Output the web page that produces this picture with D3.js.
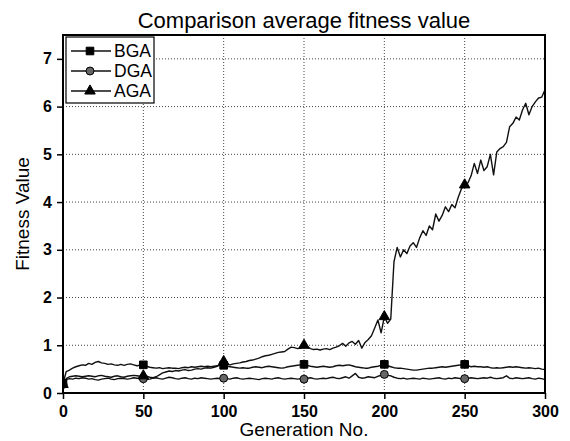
<!DOCTYPE html>
<html>
<head>
<meta charset="utf-8">
<script src="https://cdn.jsdelivr.net/npm/d3@7"></script>
<style>
  html, body { margin: 0; padding: 0; background: #fff; }
  svg { display: block; font-family: "Liberation Sans", Arial, sans-serif; }
</style>
</head>
<body>
<svg id="chart" width="570" height="441"></svg>
<script>
// Average fitness per generation (sampled every 2 generations)
const generations = d3.range(0, 301, 2);

const bgaValues = [
  0.20, 0.45, 0.48, 0.52, 0.55, 0.57, 0.59, 0.58, 0.62, 0.60,
  0.64, 0.66, 0.63, 0.62, 0.60, 0.61, 0.59, 0.58, 0.60, 0.58,
  0.60, 0.61, 0.59, 0.57, 0.58, 0.59, 0.56, 0.54, 0.53, 0.52,
  0.53, 0.51, 0.52, 0.53, 0.52, 0.52, 0.51, 0.53, 0.54, 0.53,
  0.55, 0.54, 0.55, 0.56, 0.55, 0.56, 0.55, 0.56, 0.57, 0.58,
  0.58, 0.56, 0.55, 0.54, 0.53, 0.52, 0.53, 0.52, 0.52, 0.54,
  0.55, 0.54, 0.53, 0.55, 0.56, 0.55, 0.54, 0.53, 0.52, 0.53,
  0.55, 0.56, 0.57, 0.58, 0.59, 0.60, 0.58, 0.56, 0.55, 0.54,
  0.55, 0.56, 0.55, 0.54, 0.55, 0.57, 0.58, 0.57, 0.58, 0.59,
  0.57, 0.55, 0.54, 0.53, 0.52, 0.52, 0.54, 0.55, 0.56, 0.58,
  0.60, 0.57, 0.55, 0.53, 0.52, 0.52, 0.51, 0.50, 0.49, 0.48,
  0.48, 0.49, 0.50, 0.51, 0.52, 0.52, 0.53, 0.54, 0.55, 0.54,
  0.55, 0.56, 0.57, 0.58, 0.59, 0.60, 0.57, 0.55, 0.56, 0.55,
  0.55, 0.54, 0.55, 0.53, 0.52, 0.53, 0.52, 0.53, 0.54, 0.55,
  0.54, 0.55, 0.54, 0.53, 0.52, 0.53, 0.52, 0.51, 0.52, 0.50,
  0.49
];

const dgaValues = [
  0.18, 0.28, 0.30, 0.29, 0.31, 0.30, 0.32, 0.31, 0.29, 0.30,
  0.28, 0.27, 0.29, 0.30, 0.31, 0.29, 0.28, 0.30, 0.31, 0.30,
  0.29, 0.30, 0.32, 0.31, 0.30, 0.30, 0.28, 0.29, 0.31, 0.32,
  0.30, 0.29, 0.31, 0.33, 0.32, 0.30, 0.29, 0.31, 0.32, 0.30,
  0.29, 0.31, 0.30, 0.32, 0.31, 0.30, 0.29, 0.30, 0.31, 0.30,
  0.31, 0.30, 0.29, 0.31, 0.32, 0.30, 0.29, 0.30, 0.31, 0.30,
  0.29, 0.28, 0.30, 0.31, 0.30, 0.29, 0.31, 0.32, 0.30, 0.29,
  0.30, 0.31, 0.30, 0.29, 0.30, 0.29, 0.31, 0.32, 0.30, 0.29,
  0.30, 0.31, 0.30, 0.32, 0.33, 0.31, 0.30, 0.32, 0.34, 0.31,
  0.36, 0.41, 0.33, 0.31, 0.32, 0.34, 0.33, 0.32, 0.35, 0.37,
  0.39, 0.37, 0.36, 0.33, 0.31, 0.30, 0.31, 0.29, 0.30, 0.31,
  0.30, 0.29, 0.31, 0.30, 0.29, 0.30, 0.31, 0.32, 0.30, 0.29,
  0.31, 0.30, 0.32, 0.31, 0.30, 0.30, 0.31, 0.32, 0.31, 0.30,
  0.31, 0.32, 0.31, 0.33, 0.31, 0.30, 0.31, 0.32, 0.36, 0.31,
  0.30, 0.32, 0.31, 0.30, 0.31, 0.32, 0.30, 0.29, 0.31, 0.30,
  0.28
];

const agaValues = [
  0.18, 0.30, 0.34, 0.35, 0.36, 0.35, 0.34, 0.35, 0.36, 0.35,
  0.34, 0.36, 0.37, 0.35, 0.34, 0.33, 0.35, 0.36, 0.34, 0.33,
  0.35, 0.36, 0.37, 0.36, 0.35, 0.36, 0.35, 0.33, 0.32, 0.34,
  0.38, 0.42, 0.44, 0.46, 0.45, 0.47, 0.46, 0.48, 0.49, 0.47,
  0.48, 0.50, 0.51, 0.50, 0.52, 0.53, 0.52, 0.54, 0.56, 0.60,
  0.66, 0.60, 0.59, 0.61, 0.62, 0.63, 0.65, 0.66, 0.68, 0.69,
  0.71, 0.73, 0.76, 0.78, 0.79, 0.81, 0.83, 0.85, 0.86, 0.87,
  0.92, 0.96, 0.95, 0.93, 0.94, 1.00, 0.97, 0.93, 0.91, 0.92,
  0.90, 0.92, 0.93, 0.91, 0.94, 0.96, 0.99, 1.04, 0.98, 1.05,
  1.08, 1.02, 1.10, 0.94, 1.06, 1.12, 1.20, 1.36, 1.53, 1.26,
  1.60, 1.46, 1.55, 2.75, 3.05, 2.85, 3.00, 2.92, 3.08, 3.15,
  3.05, 3.25, 3.40, 3.30, 3.50, 3.42, 3.75, 3.60, 3.72, 3.90,
  3.80, 3.95, 3.88, 4.10, 4.28, 4.36, 4.40, 4.55, 4.81, 4.60,
  4.88, 4.66, 4.74, 5.00, 4.57, 5.05, 5.12, 5.16, 5.25, 5.58,
  5.65, 5.78, 5.72, 5.93, 6.07, 5.83, 6.00, 6.10, 6.18, 6.20,
  6.35
];

const seriesNames = ["BGA", "DGA", "AGA"];
const xTicks = [0, 50, 100, 150, 200, 250, 300];
const yTicks = [0, 1, 2, 3, 4, 5, 6, 7];
const markerGenerations = [0, 50, 100, 150, 200, 250];

const series = [
  { name: seriesNames[0], values: bgaValues, symbol: d3.symbolSquare, size: 58, fill: "#000" },
  { name: seriesNames[1], values: dgaValues, symbol: d3.symbolCircle, size: 50, fill: "#666" },
  { name: seriesNames[2], values: agaValues, symbol: d3.symbolTriangle, size: 48, fill: "#000" }
];

const svg = d3.select("#chart");
const margin = { left: 63, right: 25, top: 35, bottom: 48 };
const W = 570, H = 441;
const x = d3.scaleLinear().domain([0, 300]).range([margin.left, W - margin.right]);
const y = d3.scaleLinear().domain([0, 7.5]).range([H - margin.bottom, margin.top]);

svg.append("defs").append("clipPath").attr("id", "plotClip")
  .append("rect")
  .attr("x", x(0)).attr("y", y(7.5))
  .attr("width", x(300) - x(0)).attr("height", y(0) - y(7.5));

// dotted grid
const grid = svg.append("g").attr("class", "grid");
grid.selectAll("line.v").data(xTicks.filter(d => d > 0 && d < 300)).join("line")
  .attr("x1", d => x(d)).attr("x2", d => x(d))
  .attr("y1", y(0)).attr("y2", y(7.5))
  .attr("stroke", "#444").attr("stroke-width", 1).attr("stroke-dasharray", "1,2");
grid.selectAll("line.h").data(yTicks.filter(d => d > 0)).join("line")
  .attr("x1", x(0)).attr("x2", x(300))
  .attr("y1", d => y(d)).attr("y2", d => y(d))
  .attr("stroke", "#444").attr("stroke-width", 1).attr("stroke-dasharray", "1,2");

// series lines
const line = d3.line().x((d, i) => x(generations[i])).y(d => y(d));
const plot = svg.append("g").attr("clip-path", "url(#plotClip)");
series.forEach(s => {
  plot.append("path")
    .datum(s.values)
    .attr("fill", "none")
    .attr("stroke", "#111")
    .attr("stroke-width", 1.4)
    .attr("stroke-linejoin", "round")
    .attr("d", line);
});

// markers every 50 generations
series.forEach(s => {
  const sym = d3.symbol().type(s.symbol).size(s.size);
  plot.selectAll(null)
    .data(markerGenerations)
    .join("path")
    .attr("d", sym)
    .attr("transform", g => `translate(${x(g)},${y(s.values[generations.indexOf(g)])})`)
    .attr("fill", s.fill)
    .attr("stroke", "#000")
    .attr("stroke-width", 1);
});

// axes
const xAxis = svg.append("g")
  .attr("transform", `translate(0,${y(0)})`)
  .call(d3.axisBottom(x).tickValues(xTicks).tickSize(6).tickPadding(7));
const yAxis = svg.append("g")
  .attr("transform", `translate(${x(0)},0)`)
  .call(d3.axisLeft(y).tickValues(yTicks).tickSize(6).tickPadding(5));
[xAxis, yAxis].forEach(a => {
  a.select(".domain").remove();
  a.selectAll(".tick line").attr("stroke", "#000").attr("stroke-width", 1.5);
  a.selectAll(".tick text")
    .attr("fill", "#000")
    .style("font-family", "'Liberation Sans', Arial, sans-serif")
    .style("font-size", "16px")
    .style("font-weight", "bold");
});

// frame
svg.append("rect")
  .attr("x", x(0)).attr("y", y(7.5))
  .attr("width", x(300) - x(0)).attr("height", y(0) - y(7.5))
  .attr("fill", "none").attr("stroke", "#000").attr("stroke-width", 2);

// titles
svg.append("text")
  .attr("x", (x(0) + x(300)) / 2).attr("y", 28)
  .attr("text-anchor", "middle")
  .style("font-size", "22px")
  .text("Comparison average fitness value");
svg.append("text")
  .attr("x", (x(0) + x(300)) / 2).attr("y", 436)
  .attr("text-anchor", "middle")
  .style("font-size", "19px")
  .text("Generation No.");
svg.append("text")
  .attr("transform", `translate(29,${(y(0) + y(7.5)) / 2}) rotate(-90)`)
  .attr("text-anchor", "middle")
  .style("font-size", "19px")
  .text("Fitness Value");

// legend
const legend = svg.append("g");
legend.append("rect")
  .attr("x", 66).attr("y", 37).attr("width", 88).attr("height", 66)
  .attr("fill", "#fff").attr("stroke", "#000").attr("stroke-width", 1.2);
series.forEach((s, i) => {
  const ly = 51 + i * 20;
  legend.append("line")
    .attr("x1", 71).attr("x2", 111).attr("y1", ly).attr("y2", ly)
    .attr("stroke", "#111").attr("stroke-width", 1.4);
  legend.append("path")
    .attr("d", d3.symbol().type(s.symbol).size(s.size)())
    .attr("transform", `translate(90,${ly})`)
    .attr("fill", s.fill).attr("stroke", "#000").attr("stroke-width", 1);
  legend.append("text")
    .attr("x", 114).attr("y", ly + 6)
    .style("font-size", "17.5px")
    .text(s.name);
});
</script>
</body>
</html>
